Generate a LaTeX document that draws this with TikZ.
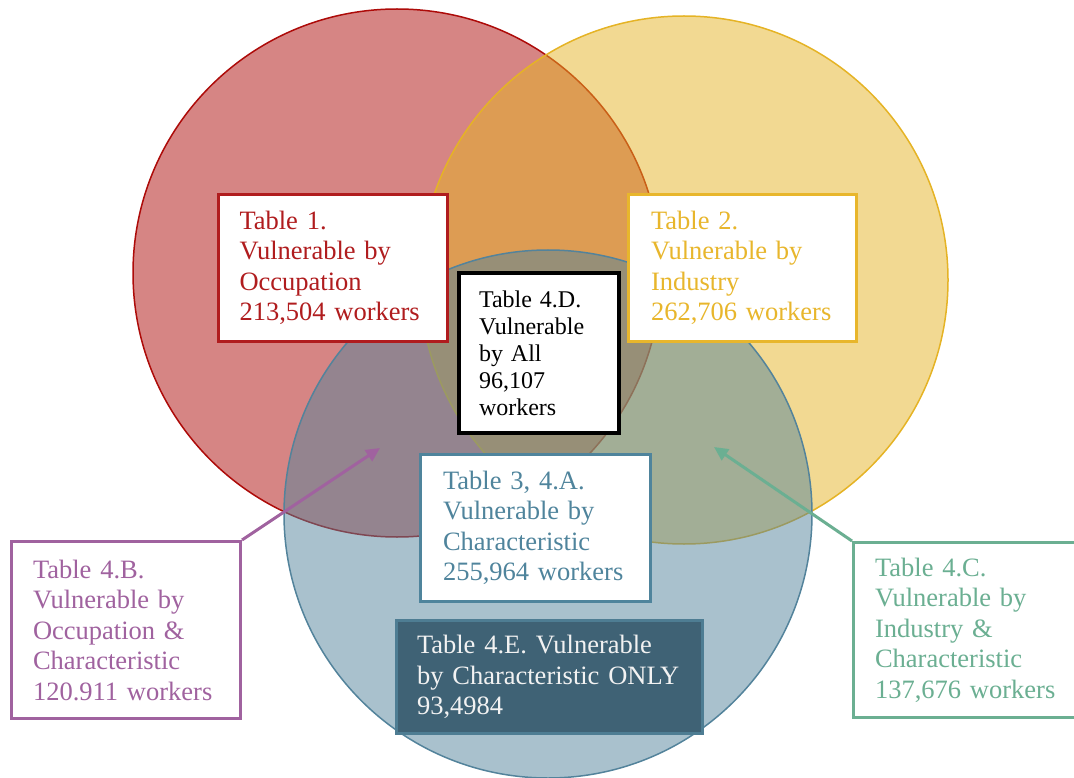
\documentclass[tikz,border=0pt]{standalone}
\usepackage{fontspec}
\setmainfont{Liberation Serif}
\usepackage{xcolor}
\usepackage{tikz}
\usetikzlibrary{arrows.meta}

\definecolor{occred}{HTML}{AD0B09}
\definecolor{occtxt}{HTML}{B01C1E}
\definecolor{indyel}{HTML}{E5B325}
\definecolor{indtxt}{HTML}{E8B62C}
\definecolor{chrblue}{HTML}{53839B}
\definecolor{chrtxt}{HTML}{4F849C}
\definecolor{onlyfill}{HTML}{3F6275}
\definecolor{onlyline}{HTML}{4E7D93}
\definecolor{ocpurple}{HTML}{A0629F}
\definecolor{icgreen}{HTML}{6BAF92}

\tikzset{
  venn/.style={line width=1.5pt, fill opacity=0.5},
  tbl/.style={rectangle, draw, line width=3pt, fill=white, anchor=north west,
    align=left, inner xsep=21pt, inner ysep=0pt,
    font=\fontsize{26.5}{30.5}\selectfont},
  link/.style={line width=3pt, -{Triangle[length=14pt,width=13pt]}}
}

\begin{document}
\begin{tikzpicture}[x=1pt,y=-1pt]
  \clip (0,0) rectangle (1074,778);

  % the three sets
  \draw[venn, draw=occred, fill=occred] (397,273) circle (264);
  \draw[venn, draw=indyel, fill=indyel] (684,280) circle (264);
  \draw[venn, draw=chrblue, fill=chrblue] (548,514) circle (264);

  \node[tbl, draw=occtxt, text=occtxt, text width=187pt, minimum height=147pt]
    (occ) at (217,193) {Table 1.\\Vulnerable by\\Occupation\\213,504 workers};
  \node[tbl, draw=indtxt, text=indtxt, text width=183pt, inner xsep=22.5pt, minimum height=147pt]
    (ind) at (627,193) {Table 2.\\Vulnerable by\\Industry\\262,706 workers};
  \node[tbl, draw=black, line width=4pt, text width=120pt, inner xsep=20pt, minimum height=160pt,
    font=\fontsize{24}{27}\selectfont]
    (all) at (457,271) {Table 4.D.\\Vulnerable\\by All\\96,107\\workers};
  \node[tbl, draw=chrtxt, text=chrtxt, text width=185pt, inner xsep=22.5pt, minimum height=147pt]
    (chr) at (419,453) {Table 3, 4.A.\\Vulnerable by\\Characteristic\\255,964 workers};
  \node[tbl, draw=onlyline, fill=onlyfill, text=white!95!black, text width=265pt, inner xsep=20.5pt,
    minimum height=113pt]
    (only) at (395,619) {Table 4.E. Vulnerable\\by Characteristic ONLY\\93,4984};
  \node[tbl, draw=ocpurple, text=ocpurple, text width=186pt, inner xsep=21.5pt, minimum height=177pt]
    (occchr) at (10,540) {Table 4.B.\\Vulnerable by\\Occupation \&\\Characteristic\\120.911 workers};
  \node[tbl, draw=icgreen, text=icgreen, text width=186pt, inner xsep=21.5pt, minimum height=175pt]
    (indchr) at (852,541) {Table 4.C.\\Vulnerable by\\Industry \&\\Characteristic\\137,676 workers};

  % pointers into the two-set overlaps
  \coordinate (occtip) at (380,448);
  \coordinate (indtip) at (714,447);
  \draw[link, ocpurple] (occchr.north east) -- (occtip);
  \draw[link, icgreen] (indchr.north west) -- (indtip);
\end{tikzpicture}
\end{document}
